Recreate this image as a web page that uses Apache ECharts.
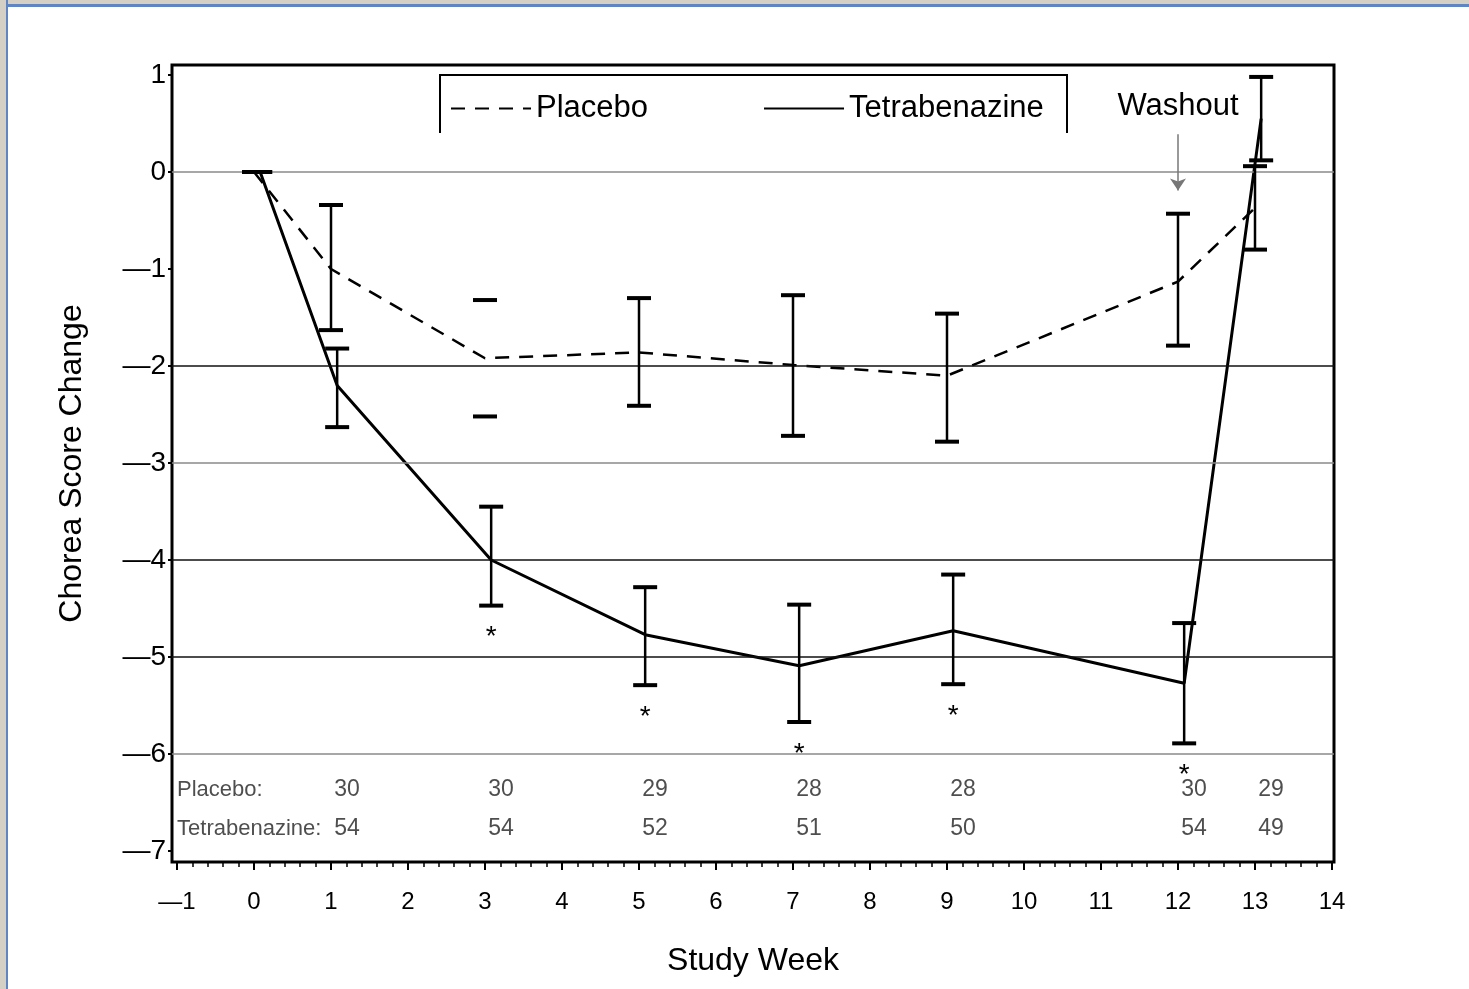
<!DOCTYPE html>
<html><head><meta charset="utf-8">
<script src="https://cdn.jsdelivr.net/npm/echarts@6/dist/echarts.min.js"></script>
<style>
html,body{margin:0;padding:0;background:#fff;}
#chart{position:absolute;left:0;top:0;width:1469px;height:989px;}
#topbar{position:absolute;left:0;top:0;width:1469px;height:4px;background:#d4d0c6;border-bottom:3px solid #5f86c2;}
#leftbar{position:absolute;left:0;top:0;width:6px;height:989px;background:#d4d0c6;border-right:2px solid #5f86c2;}
</style></head>
<body><div id="chart"></div><div id="topbar"></div><div id="leftbar"></div>
<script>
// ---- data ----
const weeks = [0, 1, 3, 5, 7, 9, 12, 13];
const placeboMean = [0, -1.00, -1.92, -1.86, -1.99, -2.10, -1.13, -0.37];
const placeboLow  = [0, -1.63, -2.52, -2.41, -2.72, -2.78, -1.79, -0.80];
const placeboHigh = [0, -0.34, -1.32, -1.30, -1.27, -1.46, -0.43, 0.06];
const placeboStemShown = [true, true, false, true, true, true, true, true];
const tetraMean = [0, -2.20, -4.00, -4.77, -5.09, -4.73, -5.27, 0.55];
const tetraLow  = [0, -2.63, -4.47, -5.29, -5.67, -5.28, -5.89, 0.12];
const tetraHigh = [0, -1.82, -3.45, -4.28, -4.46, -4.15, -4.65, 0.98];
const tetraSignificant = [false, false, true, true, true, true, true, false];
const nWeeks = [1, 3, 5, 7, 9, 12, 13];
const placeboN = [30, 30, 29, 28, 28, 30, 29];
const tetraN   = [54, 54, 52, 51, 50, 54, 49];
const rowLabels = ['Placebo:', 'Tetrabenazine:'];
const xTicks = [-1, 0, 1, 2, 3, 4, 5, 6, 7, 8, 9, 10, 11, 12, 13, 14];
const yTicks = [-7, -6, -5, -4, -3, -2, -1, 0, 1];
const refLines = [0, -2, -3, -4, -5, -6];
const refLineDark = [false, true, false, true, true, false];
const washoutWeek = 12;
const seriesNames = ['Placebo', 'Tetrabenazine'];

// ---- layout constants ----
const FONT = '"Liberation Sans", Arial, sans-serif';
const tetraDodge = 0.08;
const rowY = [-6.37, -6.77];
const minorTicks = [];
for (let k = -1; k < 14; k++) for (let j = 1; j < 5; j++) minorTicks.push(+(k + j * 0.2).toFixed(2));
const fmt = v => v < 0 ? '\u2014' + Math.abs(v) : String(v);

function errorBars(name, xs, lows, highs, stems, stars) {
  return {
    type: 'custom', name: name, z: 6, silent: true,
    encode: { x: 0, y: [1, 2] },
    data: xs.map((x, i) => [x, lows[i], highs[i], stems[i] ? 1 : 0, stars[i] ? 1 : 0]),
    renderItem: function (params, api) {
      const x = api.value(0);
      const lo = api.coord([x, api.value(1)]);
      const hi = api.coord([x, api.value(2)]);
      const hw = 12;
      const ch = [];
      if (api.value(3)) ch.push({ type: 'line', shape: { x1: lo[0], y1: lo[1], x2: hi[0], y2: hi[1] }, style: { stroke: '#000', lineWidth: 2.5 } });
      ch.push({ type: 'line', shape: { x1: hi[0] - hw, y1: hi[1], x2: hi[0] + hw, y2: hi[1] }, style: { stroke: '#000', lineWidth: 4 } });
      ch.push({ type: 'line', shape: { x1: lo[0] - hw, y1: lo[1], x2: lo[0] + hw, y2: lo[1] }, style: { stroke: '#000', lineWidth: 4 } });
      if (api.value(4)) ch.push({ type: 'text', x: lo[0], y: lo[1] + 32, style: { text: '*', fontSize: 28, fill: '#000', align: 'center', verticalAlign: 'middle', fontFamily: FONT } });
      return { type: 'group', children: ch };
    }
  };
}

const chart = echarts.init(document.getElementById('chart'), null, { renderer: 'canvas' });
chart.setOption({
  animation: false,
  backgroundColor: '#fff',
  textStyle: { fontFamily: FONT },
  grid: { left: 172, top: 65, right: 135, bottom: 127, show: true, borderColor: '#000', borderWidth: 3, backgroundColor: 'transparent' },
  legend: {
    data: seriesNames, left: 445, top: 88, itemWidth: 80, itemHeight: 14, itemGap: 115,
    itemStyle: { color: 'rgba(0,0,0,0)', borderWidth: 0, opacity: 0 },
    textStyle: { fontSize: 31, color: '#000', fontFamily: FONT }
  },
  graphic: [{
    type: 'polyline', silent: true,
    shape: { points: [[440, 133], [440, 75], [1067, 75], [1067, 133]] },
    style: { stroke: '#000', lineWidth: 2, fill: null }
  }],
  xAxis: [{
    type: 'value', min: -1.065, max: 14.026,
    axisLine: { show: false, onZero: false }, splitLine: { show: false },
    axisTick: { show: true, customValues: xTicks, length: 8, lineStyle: { color: '#000', width: 2 } },
    axisLabel: { customValues: xTicks, formatter: fmt, fontSize: 24, color: '#000', margin: 28, fontFamily: FONT },
    name: 'Study Week', nameLocation: 'middle', nameGap: 83,
    nameTextStyle: { fontSize: 32, color: '#000', fontFamily: FONT }
  }, {
    type: 'value', min: -1.065, max: 14.026, position: 'bottom',
    axisLine: { show: false, onZero: false }, splitLine: { show: false },
    axisTick: { show: true, customValues: minorTicks, length: 5, lineStyle: { color: '#000', width: 1.5 } },
    axisLabel: { show: false }
  }],
  yAxis: {
    type: 'value', min: -7.113, max: 1.103,
    axisLine: { show: false, onZero: false }, splitLine: { show: false },
    axisTick: { show: true, customValues: yTicks, length: 4, lineStyle: { color: '#000', width: 2 } },
    axisLabel: { customValues: yTicks, formatter: fmt, fontSize: 28, color: '#000', margin: 6, fontFamily: FONT },
    name: 'Chorea Score Change', nameLocation: 'middle', nameGap: 84,
    nameTextStyle: { fontSize: 32, color: '#000', fontFamily: FONT }
  },
  series: [
    {
      type: 'line', name: 'refs', data: [], z: 1, silent: true,
      markLine: {
        silent: true, symbol: ['none', 'none'], animation: false,
        label: { show: false },
        data: refLines.map((v, i) => ({ yAxis: v, lineStyle: { color: refLineDark[i] ? '#111' : '#8a8a8a', width: 1.5, type: 'solid' } }))
      }
    },
    {
      type: 'line', name: 'washout', data: [], z: 3, silent: true,
      markLine: {
        silent: true, symbol: ['none', 'arrow'], symbolSize: 12, animation: false,
        lineStyle: { color: '#777', width: 1.5, type: 'solid' },
        label: { show: true, position: 'start', formatter: 'Washout', fontSize: 31, color: '#000', distance: 12, fontFamily: FONT },
        data: [[{ coord: [washoutWeek, 0.39] }, { coord: [washoutWeek, -0.19] }]]
      }
    },
    {
      type: 'line', name: seriesNames[0], z: 4, symbol: 'none',
      data: weeks.map((w, i) => [w, placeboMean[i]]),
      lineStyle: { color: '#000', width: 2.5, type: [14, 10] },
      itemStyle: { color: '#000' }
    },
    {
      type: 'line', name: seriesNames[1], z: 4, symbol: 'none',
      data: weeks.map((w, i) => [w + tetraDodge, tetraMean[i]]),
      lineStyle: { color: '#000', width: 3, type: 'solid' },
      itemStyle: { color: '#000' }
    },
    errorBars('placeboErr', weeks, placeboLow, placeboHigh, placeboStemShown, weeks.map(() => false)),
    errorBars('tetraErr', weeks.map(w => w + tetraDodge), tetraLow, tetraHigh, weeks.map(() => true), tetraSignificant),
    {
      type: 'scatter', name: 'nTable', z: 5, silent: true, symbolSize: 0.1,
      itemStyle: { color: 'rgba(0,0,0,0)' },
      data: nWeeks.map((w, i) => [w, rowY[0], placeboN[i]]).concat(nWeeks.map((w, i) => [w, rowY[1], tetraN[i]])),
      label: { show: true, position: 'inside', offset: [16, 0], formatter: p => String(p.value[2]), fontSize: 23, color: '#222', fontFamily: FONT }
    },
    {
      type: 'scatter', name: 'rowLabels', z: 5, silent: true, symbolSize: 0.1,
      itemStyle: { color: 'rgba(0,0,0,0)' },
      data: rowLabels.map((t, i) => [-1.0, rowY[i], t]),
      label: { show: true, position: 'right', distance: 0, formatter: p => p.value[2], fontSize: 22, color: '#222', fontFamily: FONT }
    }
  ]
});
</script>
</body></html>
